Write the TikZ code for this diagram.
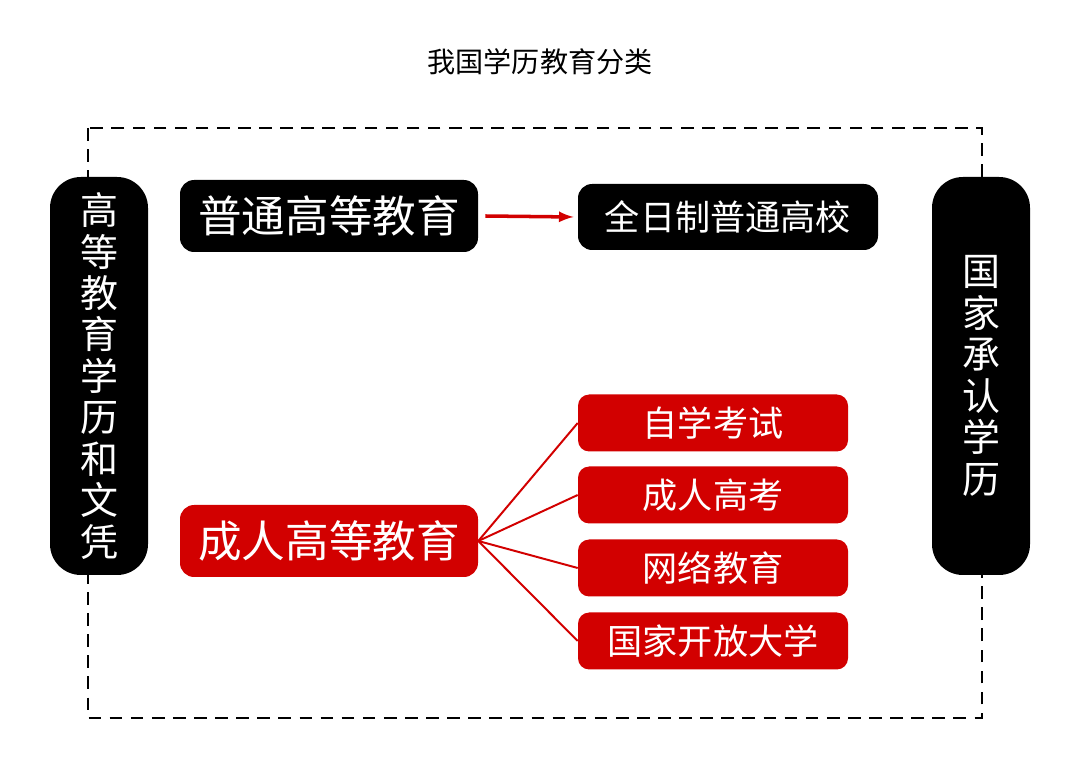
\documentclass[tikz,border=0pt]{standalone}
\usepackage{fontspec}
\setmainfont{Noto Sans CJK SC}
\definecolor{boxred}{RGB}{210,0,0}
\begin{document}
\begin{tikzpicture}
        [x=0.025cm,y=-0.025cm,
         darkbox/.style={rounded corners=10pt,fill=black,text=white,inner sep=0pt},
         redbox/.style={rounded corners=8pt,fill=boxred,text=white,inner sep=0pt},
         sidebox/.style={darkbox,rounded corners=22pt,minimum width=98*0.025cm,minimum height=398*0.025cm,align=center,font=\fontsize{27}{29.5}\selectfont},
         leafbox/.style={redbox,minimum width=270*0.025cm,minimum height=57*0.025cm,font=\fontsize{25}{28}\selectfont}]
        \useasboundingbox (0,0) rectangle (1080,766);
        \node (title) at (540,62) {\fontsize{20}{22}\selectfont 我国学历教育分类};
        \draw[dashed,line width=1.6pt,dash pattern=on 9pt off 6pt] (88,128) rectangle (982,718);
        \node[sidebox] (left) at (99,376) {高\\等\\教\\育\\学\\历\\和\\文\\凭};
        \node[sidebox] (right) at (981,376) {国\\家\\承\\认\\学\\历};
        \node[darkbox,minimum width=298*0.025cm,minimum height=72*0.025cm,font=\fontsize{31}{33}\selectfont] (regular) at (329,216) {普通高等教育};
        \node[darkbox,minimum width=300*0.025cm,minimum height=66*0.025cm,font=\fontsize{25}{28}\selectfont] (fulltime) at (728,217) {全日制普通高校};
        \node[redbox,rounded corners=10pt,minimum width=298*0.025cm,minimum height=72*0.025cm,font=\fontsize{31}{33}\selectfont] (adult) at (329,541) {成人高等教育};
        \node[leafbox] (selfexam) at (713,423) {自学考试};
        \node[leafbox] (adultexam) at (713,495) {成人高考};
        \node[leafbox] (online) at (713,568) {网络教育};
        \node[leafbox] (openuni) at (713,641) {国家开放大学};
        \draw[boxred,line width=2.5pt,-latex] (regular.east) ++(7,0) -- ([xshift=-3]fulltime.west);
        \foreach \leaf in {selfexam,adultexam,online,openuni}
          \draw[boxred,line width=1.4pt] (adult.east) -- (\leaf.west);
\end{tikzpicture}
\end{document}
